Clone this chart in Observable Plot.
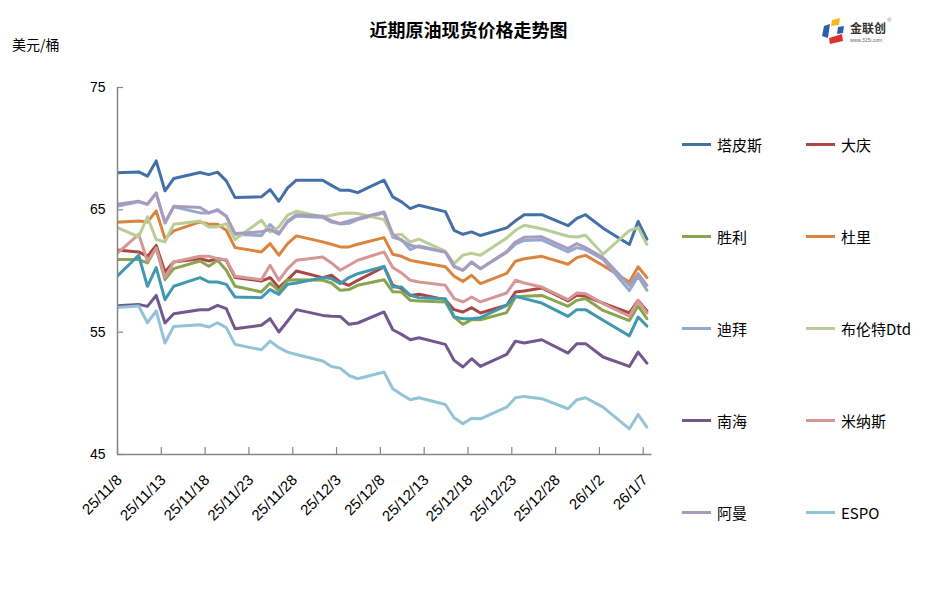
<!DOCTYPE html>
<html lang="zh">
<head>
<meta charset="utf-8">
<title>近期原油现货价格走势图</title>
<script src="https://cdn.jsdelivr.net/npm/d3@7"></script>
<script src="https://cdn.jsdelivr.net/npm/@observablehq/plot@0.6"></script>
<style>
html,body{margin:0;padding:0;background:#fff;}
#wrap{position:relative;width:937px;height:601px;overflow:hidden;background:#fff;font-family:"Noto Sans CJK SC","Noto Sans",sans-serif;color:#000;}
#chart{position:absolute;left:0;top:0;}
#title{position:absolute;left:0;top:16px;width:937px;text-align:center;font-size:18px;font-weight:bold;line-height:26px;}
#unit{position:absolute;left:12px;top:34px;font-size:14px;line-height:20px;}
.leg{position:absolute;height:22px;display:flex;align-items:center;font-size:15px;white-space:nowrap;line-height:22px;}
.leg i{display:inline-block;width:29px;height:3px;margin-right:6px;}
#logo{position:absolute;left:818px;top:14px;}
</style>
</head>
<body>
<div id="wrap">
  <div id="chart"></div>
  <div id="title">近期原油现货价格走势图</div>
  <div id="unit">美元/桶</div>
  <div id="legend"></div>
  <svg id="logo" width="80" height="34" viewBox="0 0 80 34">
    <path d="M14 6 L22 4 L21 11 L13 12 Z" fill="#F5B81C"/>
    <path d="M6 12 L12 10 L10 24 L4 22 Z" fill="#2E5DAA"/>
    <path d="M20 13 L26 12 L25 19 L19 20 Z" fill="#2E5DAA"/>
    <path d="M11 24 L24 20 L25 27 L12 30 Z" fill="#D8342B"/>
    <text x="32" y="19" font-size="12" font-weight="bold" fill="#333" font-family="Noto Sans CJK SC">金联创</text>
    <text x="32" y="28" font-size="5" fill="#666" font-family="Liberation Sans">www.315i.com</text>
    <text x="69" y="8" font-size="6" fill="#888" font-family="Liberation Sans">®</text>
  </svg>
</div>
<script>
// ---------- data ----------
const dates = ["2025-11-07","2025-11-10","2025-11-11","2025-11-12","2025-11-13","2025-11-14",
  "2025-11-17","2025-11-18","2025-11-19","2025-11-20","2025-11-21",
  "2025-11-24","2025-11-25","2025-11-26","2025-11-27","2025-11-28",
  "2025-12-01","2025-12-02","2025-12-03","2025-12-04","2025-12-05",
  "2025-12-08","2025-12-09","2025-12-10","2025-12-11","2025-12-12",
  "2025-12-15","2025-12-16","2025-12-17","2025-12-18","2025-12-19",
  "2025-12-22","2025-12-23","2025-12-24","2025-12-26",
  "2025-12-29","2025-12-30","2025-12-31","2026-01-02",
  "2026-01-05","2026-01-06","2026-01-07"];

const tapis   = [68.02,68.10,67.75,69.00,66.55,67.56,68.05,67.88,68.08,67.37,66.00,66.06,66.66,65.70,66.79,67.42,67.42,67.00,66.60,66.60,66.41,67.42,66.06,65.65,65.10,65.38,64.85,63.33,63.00,63.20,62.90,63.53,64.10,64.60,64.60,63.70,64.30,64.60,63.50,62.17,64.05,62.60];
const daqing  = [61.75,61.56,61.20,62.10,59.92,60.74,61.01,60.82,61.01,60.88,59.46,59.18,59.46,58.64,59.29,60.00,59.46,59.65,59.10,58.83,59.24,60.33,58.85,58.56,58.00,58.10,57.66,56.84,56.65,57.00,56.57,57.20,58.28,58.37,58.61,57.55,58.01,57.93,57.38,56.57,57.60,56.73];
const shengli = [60.93,60.93,60.66,61.91,59.29,60.19,60.82,60.39,60.88,60.06,58.75,58.29,59.02,58.37,59.24,59.29,59.24,59.02,58.42,58.48,58.83,59.29,58.30,58.28,57.60,57.55,57.47,56.24,55.64,56.02,56.02,56.60,57.87,57.93,58.00,57.11,57.60,57.74,56.78,55.95,57.15,56.10];
const nanhai  = [57.14,57.27,57.11,58.01,55.75,56.51,56.84,56.84,57.19,56.92,55.28,55.56,56.10,55.01,55.91,56.84,56.37,56.30,56.29,55.64,55.75,56.65,55.20,54.82,54.38,54.55,54.00,52.69,52.15,52.83,52.20,53.18,54.27,54.11,54.38,53.29,54.06,54.06,52.97,52.20,53.37,52.47];
const unlabeled = [59.20,61.29,58.75,60.28,57.66,58.75,59.46,59.10,59.10,58.91,57.87,57.82,58.48,58.09,58.91,59.02,59.46,59.38,58.97,59.46,59.78,60.38,58.70,58.69,58.01,57.82,57.74,56.24,56.10,56.10,56.18,57.19,57.93,57.74,57.38,56.29,56.84,56.84,55.97,54.70,56.24,55.50];
const duri    = [63.96,64.09,64.01,64.91,62.65,63.28,64.01,63.82,63.82,63.33,61.91,61.56,62.24,61.29,62.24,62.87,62.38,62.19,61.97,61.97,62.19,62.73,61.37,61.20,60.87,60.74,60.35,59.57,59.15,59.65,58.97,59.80,60.80,61.00,61.20,60.55,61.09,61.28,60.45,59.10,60.35,59.46];
const dubai   = [65.22,65.65,65.46,66.33,63.93,65.24,64.75,64.75,64.97,64.48,63.00,62.90,63.80,63.10,64.00,64.50,64.37,64.00,63.85,63.90,64.20,64.75,62.75,62.55,61.75,62.05,61.56,60.33,60.06,60.70,60.19,61.52,62.20,62.50,62.55,61.56,61.91,61.75,60.95,58.40,59.57,58.42];
const minas   = [61.10,63.00,60.82,61.83,59.46,60.74,61.20,61.20,61.01,60.93,59.57,59.29,60.47,59.24,60.19,60.88,61.15,60.66,60.06,60.47,60.88,61.56,60.28,59.84,59.24,59.10,58.83,57.74,57.47,57.87,57.47,58.20,59.24,59.02,58.69,57.66,58.20,58.15,57.33,56.30,57.60,56.57];
const brent   = [63.73,62.79,64.42,62.57,62.38,63.82,64.09,63.60,63.60,63.88,62.57,64.15,63.20,63.60,64.56,64.88,64.42,64.56,64.70,64.75,64.70,64.20,62.90,63.00,62.37,62.60,61.60,60.60,61.30,61.45,61.28,62.70,63.33,63.74,63.45,62.84,62.78,62.92,61.37,63.30,63.55,62.18];
const oman    = [65.40,65.70,65.46,66.39,63.93,65.30,65.19,64.75,65.02,64.48,63.06,63.20,63.40,63.00,64.09,64.60,64.48,64.10,63.88,64.09,64.29,64.83,63.00,62.50,62.10,61.95,61.56,60.40,60.06,60.74,60.19,61.60,62.37,62.75,62.80,61.83,62.24,61.91,61.10,58.83,59.78,58.83];
const espo    = [57.00,57.14,55.77,56.73,54.11,55.47,55.61,55.42,55.77,55.37,54.00,53.56,54.27,53.73,53.37,53.18,52.64,52.20,52.06,51.46,51.19,51.74,50.37,49.91,49.47,49.64,49.09,48.00,47.51,47.97,47.92,48.87,49.64,49.75,49.56,48.74,49.47,49.64,48.87,47.10,48.27,47.24];

// drawing order (Excel series order); the teal series has no legend entry
const seriesNames  = ["塔皮斯","大庆","胜利","南海","未标注","杜里","迪拜","米纳斯","布伦特Dtd","阿曼","ESPO"];
const seriesValues = [tapis, daqing, shengli, nanhai, unlabeled, duri, dubai, minas, brent, oman, espo];
const seriesColors = ["#4470A8","#AA4643","#89A54E","#71588F","#4198AF","#DB843D","#93A9CF","#D59695","#B9CD96","#A99BBD","#92C3D6"];
const legendNames  = ["塔皮斯","大庆","胜利","杜里","迪拜","布伦特Dtd","南海","米纳斯","阿曼","ESPO"];
const yTicks = [45, 55, 65, 75];

// ---------- table ----------
const hourOffset = 10; // points sit inside their day slot, as in the source chart
const table = seriesNames.flatMap((name, s) =>
  seriesValues[s].map((v, i) => ({
    name,
    value: v,
    date: new Date(Date.parse(dates[i]) + hourOffset * 3600e3)
  })));

const xStart = new Date(Date.UTC(2025, 10, 8));
const xEnd = new Date(Date.UTC(2026, 0, 8));
const xTicks = d3.utcDay.range(xStart, xEnd).filter((d, i) => i % 5 === 0);
const fmt = d => `${String(d.getUTCFullYear()).slice(2)}/${d.getUTCMonth() + 1}/${d.getUTCDate()}`;

// ---------- chart ----------
const W = 937, H = 560, mL = 117, mT = 87, mB = 106, mR = 285.5;
const frameW = W - mL - mR, frameH = H - mT - mB;
const axisColor = "#868686";
const numFont = "Liberation Sans, Arial, sans-serif";

const chart = Plot.plot({
  width: W, height: H,
  marginLeft: mL, marginRight: mR, marginTop: mT, marginBottom: mB,
  style: {background: "transparent", fontFamily: numFont, overflow: "visible"},
  x: {type: "utc", domain: [xStart, xEnd], axis: null},
  y: {domain: [45, 75], axis: null},
  color: {domain: seriesNames, range: seriesColors},
  marks: [
    Plot.lineY(table, {x: "date", y: "value", z: "name", stroke: "name",
      strokeWidth: 3, strokeLinejoin: "round", strokeLinecap: "round", clip: true}),
    Plot.ruleY([45], {stroke: axisColor, strokeWidth: 1.5}),
    Plot.ruleX([xStart], {stroke: axisColor, strokeWidth: 1.5}),
    Plot.ruleX(xTicks, {insetTop: frameH - 7, stroke: axisColor, strokeWidth: 1.2}),
    Plot.ruleY(yTicks, {insetRight: frameW - 6, stroke: axisColor, strokeWidth: 1.2}),
    Plot.text(xTicks, {x: d => d, frameAnchor: "bottom", text: fmt, rotate: -45,
      textAnchor: "end", lineAnchor: "middle", dx: 2, dy: 23, fontSize: 15, fill: "#000"}),
    Plot.text(yTicks, {y: d => d, frameAnchor: "left", text: d => String(d),
      textAnchor: "end", lineAnchor: "middle", dx: -12, fontSize: 14, fill: "#000"})
  ]
});
document.getElementById("chart").appendChild(chart);

// ---------- legend ----------
const legend = document.getElementById("legend");
const colX = [682, 806];
const rowY = [144.5, 236.5, 328.5, 420.5, 512.5];
legendNames.forEach((name, k) => {
  const color = seriesColors[seriesNames.indexOf(name)];
  const el = document.createElement("div");
  el.className = "leg";
  el.style.left = colX[k % 2] + "px";
  el.style.top = (rowY[Math.floor(k / 2)] - 11) + "px";
  el.innerHTML = `<i style="background:${color}"></i><span>${name}</span>`;
  legend.appendChild(el);
});
</script>
</body>
</html>
